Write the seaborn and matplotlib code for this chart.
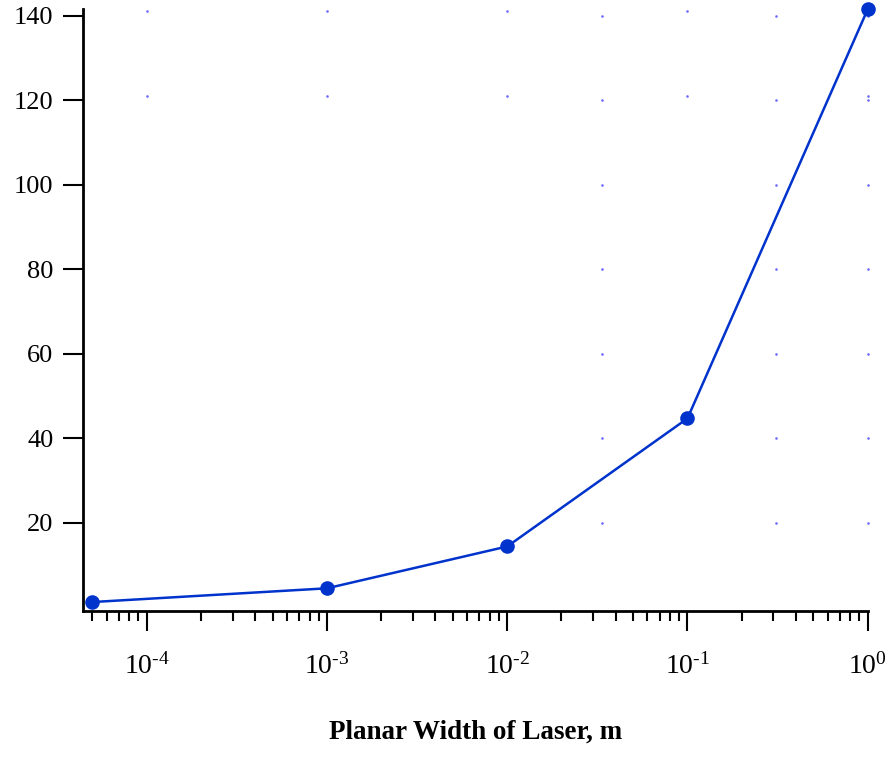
import matplotlib
matplotlib.use("Agg")
import matplotlib.pyplot as plt
import matplotlib.ticker as mticker
import numpy as np
import pandas as pd
import seaborn as sns

# ---- data ----
width_m = [5e-5, 1e-3, 1e-2, 1e-1, 1.0]
values = [1.25, 4.5, 14.4, 44.7, 141.5]

x_label = "Planar Width of Laser, m"
y_ticks = [20, 40, 60, 80, 100, 120, 140]
x_ticks = [1e-4, 1e-3, 1e-2, 1e-1, 1.0]
x_exponents = [-4, -3, -2, -1, 0]

# faint grid dots seen in the reference
dots_a_x = [1e-4, 1e-3, 1e-2, 1e-1, 1.0]
dots_a_y = [141, 121]
dots_b_x = [0.0335, 0.31, 1.0]
dots_b_y = [20, 40, 60, 80, 100, 120, 140]

sns.set_style("ticks")
plt.rcParams["font.family"] = ["Liberation Serif", "DejaVu Serif"]
plt.rcParams["mathtext.fontset"] = "custom"
plt.rcParams["mathtext.rm"] = "Liberation Serif"
plt.rcParams["mathtext.it"] = "Liberation Serif:italic"
plt.rcParams["mathtext.bf"] = "Liberation Serif:bold"
plt.rcParams["text.color"] = "black"
plt.rcParams["axes.labelcolor"] = "black"

fig = plt.figure(figsize=(8.91, 7.61), dpi=100)
ax = fig.add_axes([83 / 891, 1 - 610.7 / 761, (867.7 - 83) / 891, (610.7 - 9.3) / 761])

df = pd.DataFrame({"w": width_m, "v": values})

# grid dots
gx, gy = np.meshgrid(dots_a_x, dots_a_y)
ax.scatter(gx.ravel(), gy.ravel(), s=3.5, color="#6a6aff", linewidths=0, zorder=1, clip_on=False)
gx, gy = np.meshgrid(dots_b_x, dots_b_y)
ax.scatter(gx.ravel(), gy.ravel(), s=3.5, color="#6a6aff", linewidths=0, zorder=1, clip_on=False)

sns.lineplot(data=df, x="w", y="v", ax=ax, color="#0033cc", linewidth=1.8,
             marker="o", markersize=10.5, markeredgewidth=0, zorder=3, clip_on=False)

ax.set_xscale("log")
ax.set_xlim(4.43e-5, 1.0)
ax.set_ylim(-0.8, 141.5)

ax.set_yticks(y_ticks)
ax.set_yticklabels([str(v) for v in y_ticks])
ax.set_xticks(x_ticks)
ax.set_xticklabels([r"$10^{\text{%d}}$" % e for e in x_exponents])
ax.xaxis.set_minor_locator(mticker.LogLocator(base=10, subs=np.arange(2, 10), numticks=20))
ax.xaxis.set_minor_formatter(mticker.NullFormatter())

ax.tick_params(axis="both", which="major", direction="out", length=14.4, width=1.5,
               colors="black")
ax.tick_params(axis="y", which="major", labelsize=19, pad=7)
ax.tick_params(axis="x", which="major", labelsize=20, pad=16)
ax.tick_params(axis="x", which="minor", direction="out", length=7.2, width=1.5, colors="black")

for side in ["top", "right"]:
    ax.spines[side].set_visible(False)
for side in ["left", "bottom"]:
    ax.spines[side].set_linewidth(2)
    ax.spines[side].set_color("black")

ax.set_xlabel(x_label, fontsize=19.5, fontweight="bold", labelpad=29, color="black")
ax.set_ylabel("")
ax.grid(False)

fig.savefig("out.png", dpi=100, facecolor="white")
